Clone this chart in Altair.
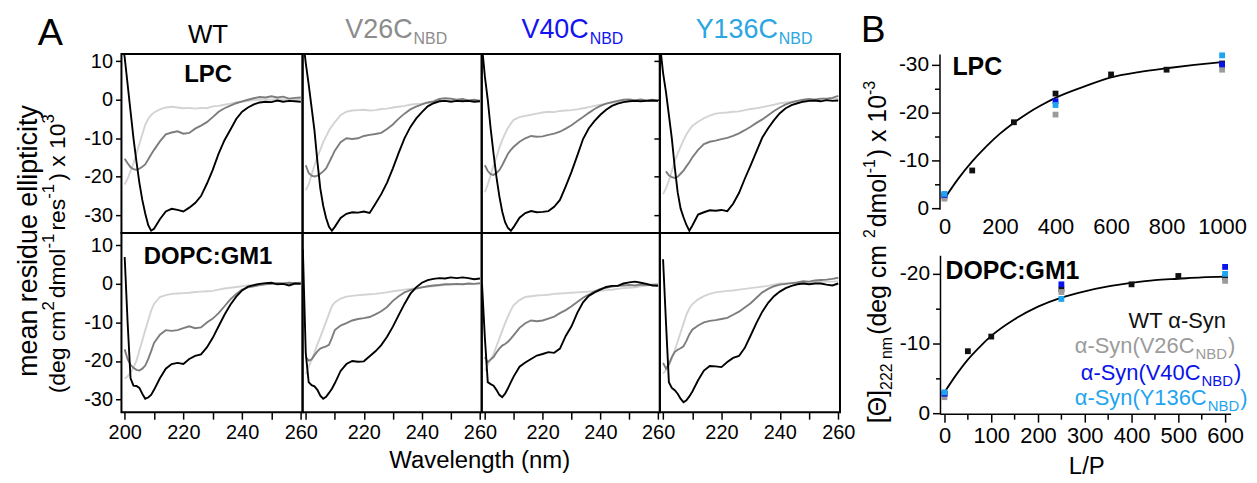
import altair as alt
import pandas as pd

FONT = "Liberation Sans"

# ---------------- Panel A : CD spectra ----------------
WL = [199, 200, 201, 202, 203, 204, 205, 206, 207, 208, 209, 210,
      212, 214, 216, 218, 220, 222, 224, 226, 228, 230, 232, 234, 236,
      238, 240, 242, 244, 246, 248, 250, 252, 254, 256, 258, 260]

WT_LPC_BLACK = [16, 11, 4, -3, -10, -16, -21.5, -26, -29.5, -32.5, -34, -33.5, -31, -29, -28.3, -28.6, -29, -28, -26.8, -25, -21.8, -18.2, -14, -10.5, -7.8, -5, -3.1, -2, -1.2, -0.7, -0.5, -0.6, -0.2, -0.5, -0.3, -0.4, -0.5]
WT_LPC_MID = [None, -15.3, -16.5, -17.5, -18, -18.2, -17.9, -17.4, -16.8, -15.5, -14.2, -13, -10.8, -9, -8.5, -8.2, -8.8, -8.6, -7.5, -6.7, -5.8, -4.5, -3.1, -2.2, -1.5, -0.9, -0.4, 0, 0.4, 0.7, 0.6, 0.9, 0.6, 0.8, 0.3, 0.5, 0.6]
WT_LPC_LIGHT = [None, -22, -20.5, -18.5, -16.5, -14, -11.5, -9, -6.5, -5, -4, -3.3, -2.5, -2, -1.8, -2, -2.2, -2.1, -2.3, -2.1, -2.2, -1.7, -1.6, -1.3, -1, -0.6, -0.5, -0.3, -0.1, 0, 0.1, 0, 0.2, 0.1, 0.2, 0.1, 0.2]

V26C_LPC_BLACK = [16, 9.5, 4, -2, -8, -16, -23, -27.5, -30.7, -33, -34, -33, -30.7, -29.6, -29.2, -29.3, -29, -29.4, -27, -24.5, -21.5, -17.8, -13.8, -10, -7.1, -4.9, -3.2, -1.7, -0.9, -0.4, -0.3, -0.5, -0.3, -0.4, -0.3, -0.5, -0.4]
V26C_LPC_MID = [None, -17, -19, -19.7, -19.9, -19.7, -19.2, -18.6, -17.8, -16.3, -14.8, -13.2, -11, -10, -10.2, -10, -9.4, -9.1, -8.9, -8.6, -7.6, -6.4, -4.9, -3.6, -2.5, -1.8, -1.2, -0.7, -0.4, 0.2, 0.4, 0.3, 0, 0.2, -0.2, 0, -0.3]
V26C_LPC_LIGHT = [None, -23.5, -22, -19.5, -17, -14.8, -13, -11, -9.5, -8, -6.8, -5.8, -4, -3.1, -2.8, -2.7, -2.6, -2.8, -2.7, -2.4, -2.3, -2, -1.8, -1.6, -1.3, -1.1, -1, -0.8, -0.6, -0.4, -0.3, -0.2, -0.3, -0.1, -0.2, -0.1, -0.2]

V40C_LPC_BLACK = [14, 6, 0, -7.5, -14, -20, -25, -29, -31.8, -33.3, -34, -33, -30.6, -29.4, -28.9, -29.2, -29.1, -28.9, -27.8, -26, -22.5, -18.7, -14.5, -10.2, -7.4, -5.5, -3.9, -2.6, -1.6, -1, -0.6, -0.4, -0.3, -0.4, -0.3, -0.2, -0.3]
V40C_LPC_MID = [None, -17, -18.5, -19.3, -19.5, -19, -18.3, -17, -15.5, -14, -13, -12.2, -10.9, -10, -9.4, -9.6, -9.5, -9.1, -8.8, -8.3, -7.5, -6.6, -5.5, -4.5, -3.4, -2.4, -1.6, -1, -0.6, -0.3, 0, 0.1, -0.1, 0.1, -0.2, 0, -0.3]
V40C_LPC_LIGHT = [None, -24, -22, -19.5, -17, -15, -12.5, -10.5, -8.8, -7.3, -6.2, -5.2, -4.5, -4.2, -3.9, -3.6, -3.3, -3.1, -3.2, -2.9, -2.8, -2.7, -2.5, -2.2, -1.9, -1.6, -1.3, -1, -0.8, -0.6, -0.4, -0.3, -0.4, -0.3, -0.2, -0.3, -0.2]

Y136C_LPC_BLACK = [14, 7, 2, -4, -10, -17.5, -24, -28.2, -30.5, -32.5, -34, -32.7, -29.8, -29.2, -28.7, -28.8, -28.6, -28.9, -27, -24.2, -20.5, -17, -13.4, -9.8, -7.4, -5.3, -3.5, -2.2, -1.4, -0.9, -0.5, -0.3, -0.2, -0.4, -0.1, -0.3, -0.2]
Y136C_LPC_MID = [None, None, -18.6, -19.6, -20.1, -20.3, -20, -19.2, -18.4, -17.3, -16.2, -15, -13, -11.5, -10.9, -10.6, -10.2, -9.9, -9.4, -8.7, -7.9, -7, -6, -5.1, -4, -2.9, -2, -1.2, -0.7, -0.3, 0, 0.2, 0, 0.3, 0.3, 0.5, 1]
Y136C_LPC_LIGHT = [None, -24.5, -23, -21, -18.5, -16, -14, -12.2, -10.5, -9, -7.8, -6.8, -5.7, -4.8, -4.1, -3.6, -3.4, -3.3, -3.1, -3, -2.7, -2.4, -2.2, -1.9, -1.6, -1.3, -0.9, -0.7, -0.5, -0.3, -0.2, 0, 0, 0.1, 0.2, 0.2, 0.3]

WT_DOPC_BLACK = [None, 7, -10, -24.5, -26.4, -26.5, -27, -28.5, -29.8, -29.5, -28.8, -27.5, -24.5, -22, -20.8, -20.5, -20.8, -19.5, -18.7, -18.3, -16.5, -14, -11, -8, -5.4, -3.3, -1.7, -0.7, -0.3, 0, 0.2, 0.3, -0.1, 0, -0.4, 0.1, 0]
WT_DOPC_MID = [None, -17, -19.5, -21, -21.8, -22.3, -22.5, -22, -21.2, -19.5, -17.5, -15.3, -13.2, -12, -12.2, -12, -11.5, -11, -11.5, -11.3, -10, -9, -7.6, -5.8, -4, -2.6, -1.5, -0.9, -0.6, -0.3, -0.1, 0, 0.2, 0.1, 0.3, 0.2, 0.3]
WT_DOPC_LIGHT = [None, -24.6, -24, -23, -21.7, -20, -17.3, -14.7, -12, -9.5, -7, -5.2, -3.4, -2.9, -2.6, -2.5, -2.4, -2.3, -2.1, -2, -1.9, -1.8, -1.5, -1.2, -1, -0.8, -0.6, -0.4, -0.3, -0.1, 0, 0.1, 0.2, 0.2, 0.3, 0.2, 0.3]

V26C_DOPC_BLACK = [9, -18, -25.5, -26.3, -26.6, -27.5, -29, -29.8, -29.3, -28.3, -27.2, -25.8, -22.6, -20.8, -20, -20.2, -20.1, -18.8, -17.5, -15.9, -13.7, -11.1, -8.1, -5.2, -2.6, -0.9, 0.3, 1, 1.3, 1.5, 1.4, 1.7, 1.5, 1.7, 1.5, 1.2, 1.4]
V26C_DOPC_MID = [None, -19, -19.9, -19.6, -18.5, -17.5, -16.8, -16.5, -16.2, -15.8, -14, -12, -10.8, -10.2, -9.5, -9.1, -8.9, -8.6, -7.9, -7.1, -6, -4.4, -3.2, -2.2, -1.6, -1.2, -0.9, -0.6, -0.4, -0.3, -0.1, -0.1, 0, -0.1, 0.1, 0, 0.2]
V26C_DOPC_LIGHT = [None, -23.5, -21.5, -19.7, -17.8, -15.7, -13.8, -11.8, -9.8, -7.8, -5.8, -4.8, -3.8, -3.3, -3.1, -2.9, -2.8, -2.7, -2.6, -2.4, -2.2, -1.9, -1.7, -1.5, -1.3, -1.1, -0.9, -0.7, -0.6, -0.4, -0.3, -0.2, -0.2, -0.1, 0, 0, 0]

V40C_DOPC_BLACK = [0, -14, -25.5, -26, -26.4, -27.5, -28.8, -29.4, -28.5, -27.1, -25.5, -24, -21.5, -20.4, -19.5, -18.6, -18.2, -17.7, -17.9, -16.8, -13.5, -11, -7.5, -4.8, -3.1, -2.2, -1.5, -0.8, -0.5, -0.5, 0.1, 0.4, 0.6, 0.3, 0, -0.4, -0.5]
V40C_DOPC_MID = [None, -19, -20.3, -19.6, -19, -17.8, -16.8, -16, -15.6, -15, -14.2, -13.3, -11.4, -10.2, -9.5, -9.7, -9.5, -9, -8.5, -7.6, -6.8, -5.8, -4.7, -3.6, -2.8, -1.9, -1.3, -1, -0.7, -0.5, -0.4, -0.3, -0.4, -0.2, -0.3, -0.3, -0.2]
V40C_DOPC_LIGHT = [None, -22.5, -21, -19.7, -18.2, -16.2, -14.2, -12.2, -10.2, -8.4, -6.8, -5.5, -4.2, -3.4, -3.2, -3, -2.9, -2.8, -2.6, -2.5, -2.4, -2.3, -2.2, -2.1, -2, -1.9, -1.8, -1.6, -1.5, -1.3, -1.1, -1, -0.9, -0.6, -0.4, -0.1, 0]

Y136C_DOPC_BLACK = [None, 6.4, -10, -25.5, -27, -27.6, -28.5, -29.8, -30.7, -30.2, -29.2, -28, -25, -22.5, -21.3, -21.4, -21.6, -20.3, -19.2, -18.7, -16.6, -13.4, -10.1, -7.2, -4.9, -3.2, -2, -1.1, -0.5, -0.1, 0.1, -0.1, 0.1, 0.1, -0.2, -0.4, 0.1]
Y136C_DOPC_MID = [None, -20.5, -22, -20.8, -19, -17.7, -17.1, -16.7, -16.2, -14.8, -13.1, -11.9, -10.8, -10, -9.6, -9.4, -9.1, -8.8, -8, -7.2, -6.1, -5, -3.6, -2.2, -1.3, -0.6, -0.2, 0, 0.2, 0.4, 0.7, 0.6, 0.9, 1, 1.1, 1.3, 1.6]
Y136C_DOPC_LIGHT = [None, -23.3, -22.4, -21.2, -19.4, -17.2, -15, -12.6, -10.3, -8, -6.4, -5.3, -4, -3.2, -2.6, -2.2, -2, -1.8, -1.7, -1.5, -1.3, -1.1, -0.9, -0.7, -0.5, -0.2, 0.1, 0.1, 0.2, 0.3, 0.3, 0.4, 0.5, 0.5, 0.6, 0.6, 0.7]

COLUMNS = ["WT", "V26C", "V40C", "Y136C"]
CURVES = {
    ("LPC", "WT"): (WT_LPC_LIGHT, WT_LPC_MID, WT_LPC_BLACK),
    ("LPC", "V26C"): (V26C_LPC_LIGHT, V26C_LPC_MID, V26C_LPC_BLACK),
    ("LPC", "V40C"): (V40C_LPC_LIGHT, V40C_LPC_MID, V40C_LPC_BLACK),
    ("LPC", "Y136C"): (Y136C_LPC_LIGHT, Y136C_LPC_MID, Y136C_LPC_BLACK),
    ("DOPC", "WT"): (WT_DOPC_LIGHT, WT_DOPC_MID, WT_DOPC_BLACK),
    ("DOPC", "V26C"): (V26C_DOPC_LIGHT, V26C_DOPC_MID, V26C_DOPC_BLACK),
    ("DOPC", "V40C"): (V40C_DOPC_LIGHT, V40C_DOPC_MID, V40C_DOPC_BLACK),
    ("DOPC", "Y136C"): (Y136C_DOPC_LIGHT, Y136C_DOPC_MID, Y136C_DOPC_BLACK),
}
LINE_COLORS = ["#d3d3d3", "#7d7d7d", "#000000"]
TITLE_COLORS = {"WT": "#000000", "V26C": "#8c8c8c", "V40C": "#1212f2", "Y136C": "#2aa6e2"}

# ---------------- Panel B : [Theta]222 vs L/P ----------------
LPC_WT_X = [0, 100, 250, 400, 600, 800, 1000]
LPC_WT_Y = [-2.5, -7.9, -18.0, -24.0, -28.0, -29.0, -30.3]
LPC_MUT_X = [0, 400, 1000]
LPC_V26C_Y = [-2.0, -19.6, -29.0]
LPC_V40C_Y = [-2.8, -22.4, -30.1]
LPC_Y136C_Y = [-3.0, -21.6, -32.0]
LPC_FIT_X = [0, 50, 100, 150, 200, 250, 300, 350, 400, 500, 600, 700, 800, 900, 1000]
LPC_FIT_Y = [-2.0, -6.2, -9.8, -12.9, -15.6, -17.9, -19.9, -21.6, -23.1, -25.4, -27.4, -28.5, -29.3, -30.0, -30.6]

DOPC_WT_X = [0, 50, 100, 250, 400, 500, 600]
DOPC_WT_Y = [-2.8, -8.9, -11.0, -17.8, -18.5, -19.7, -19.5]
DOPC_MUT_X = [0, 250, 600]
DOPC_V26C_Y = [-2.3, -17.4, -19.0]
DOPC_V40C_Y = [-2.8, -18.5, -21.0]
DOPC_Y136C_Y = [-3.0, -16.4, -20.0]
DOPC_FIT_X = [0, 25, 50, 75, 100, 150, 200, 250, 300, 350, 400, 450, 500, 550, 600]
DOPC_FIT_Y = [-3.0, -5.5, -7.7, -9.5, -11.1, -13.5, -15.3, -16.6, -17.5, -18.2, -18.7, -19.1, -19.3, -19.5, -19.6]

SERIES = ["WT", "V26C", "V40C", "Y136C"]
SERIES_COLORS = ["#111111", "#9b9b9b", "#0a12ea", "#1fa4ef"]

# axis frame of the lower B plot (data units): L/P start/end and theta start/end
DOPC_AXIS_LP = [-8.5, 612.8]
DOPC_AXIS_THETA = [-22.6, 0.14]

# ---------------- helpers ----------------
AW = {'V': .667, '2': .556, '6': .556, 'C': .722, '4': .556, '0': .556, 'Y': .667,
      '1': .556, '3': .556, 'α': .578, '-': .333, 'S': .667, 'y': .5, 'n': .556,
      '(': .333, ')': .333, 'N': .722, 'B': .667, 'D': .722, 'W': .944, 'T': .611,
      ' ': .278, '[': .278, ']': .278, 'Θ': .778, 'd': .556, 'e': .556, 'g': .556,
      'c': .5, 'm': .833, 'o': .556, 'l': .222, 'r': .333, 's': .5, 'x': .5}


def tw(s, fs):
    return sum(AW.get(c, .556) for c in s) * fs


def txt(s, x, y, fs, color="black", weight="normal", align="left", angle=0):
    kw = dict(text=s, font=FONT, fontSize=fs, color=color, fontWeight=weight,
              align=align, baseline="alphabetic")
    if angle:
        kw["angle"] = angle
    return alt.Chart(pd.DataFrame({"k": [0]})).mark_text(**kw).encode(
        x=alt.value(x), y=alt.value(y))


def sub_text(main, sub, tail, x, y, fs, sfs, color):
    out = [txt(main, x, y, fs, color)]
    x2 = x + tw(main, fs) + 1
    out.append(txt(sub, x2, y + 6, sfs, color))
    if tail:
        out.append(txt(tail, x2 + tw(sub, sfs) + 1, y, fs, color))
    return out


def vertical_text(pieces, x, y0, gap=2):
    """Text rotated to read bottom-to-top, built from (text, size, shift) pieces
    so that superscripts (shift<0) and subscripts (shift>0) can be drawn."""
    out = []
    y = y0
    for s, fs, dx in pieces:
        out.append(txt(s, x + dx, y, fs, angle=270))
        y -= tw(s, fs) + (gap if dx else 0)
    return out


XDOM = [198.9, 260.6]
YDOM = {"LPC": [-34.6, 11.9], "DOPC": [-33.3, 13.2]}
PWS = [182, 180, 179, 181]
PH = 180


def cd_panel(row, ci):
    col = COLUMNS[ci]
    first = ci == 0
    bottom = row == "DOPC"
    xs = alt.Scale(domain=XDOM, nice=False, zero=False)
    ys = alt.Scale(domain=YDOM[row], nice=False, zero=False)
    if bottom:
        expr = ("datum.value % 20 === 0 ? '' + datum.value : ''" if first
                else "(datum.value % 20 === 0 && datum.value > 200) ? '' + datum.value : ''")
        xaxis = alt.Axis(values=list(range(200, 261, 10)), labelExpr=expr, tickSize=7,
                         tickWidth=1.5, tickColor="black", labelFontSize=20, labelFont=FONT,
                         labelColor="black", labelPadding=3, domain=False, grid=False,
                         title=None, labelOverlap=False, labelFlush=False)
    else:
        xaxis = None
    if first:
        yaxis = alt.Axis(values=[-30, -20, -10, 0, 10], labelExpr="'' + datum.value",
                         tickSize=6, tickWidth=1.5, tickColor="black", labelFontSize=20,
                         labelFont=FONT, labelColor="black", labelPadding=3, domain=False,
                         grid=False, title=None, labelOverlap=False, labelFlush=False)
    elif col == "V40C" and not bottom:
        # inward ticks on the right edge of this panel
        yaxis = alt.Axis(orient="right", offset=-6, values=[-30, -20, -10, 0, 10],
                         tickSize=6, tickWidth=1.5, tickColor="black", labels=False,
                         domain=False, grid=False, title=None)
    else:
        yaxis = None
    layers = []
    for vals, c in zip(CURVES[(row, col)], LINE_COLORS):
        df = pd.DataFrame({"wl": WL, "v": vals}).dropna()
        layers.append(alt.Chart(df).mark_line(color=c, strokeWidth=1.9, clip=True).encode(
            x=alt.X("wl:Q", scale=xs, axis=xaxis),
            y=alt.Y("v:Q", scale=ys, axis=yaxis)))
    if row == "LPC":
        if first:
            layers.append(txt("LPC", 87, 28, 24, weight="bold", align="center"))
            layers.append(txt("A", -84, -9, 38))
            layers.append(txt("mean residue ellipticity", -85, 188, 27, align="center", angle=270))
            layers += vertical_text([("(deg cm", 23, 0), ("2", 17, -11), ("dmol", 23, 0),
                                     ("-1", 17, -11), ("res", 23, 0), ("-1", 17, -11),
                                     (") x 10", 23, 0), ("3", 17, -11)], -57, 341, gap=3)
            layers.append(txt("WT", 87, -11, 26, align="center"))
        else:
            lx = {"V26C": 43, "V40C": 40, "Y136C": 36}[col]
            layers += sub_text(col, "NBD", "", lx, -16, 27, 16, TITLE_COLORS[col])
    else:
        if first:
            layers.append(txt("DOPC:GM1", 87, 31, 24, weight="bold", align="center"))
            layers.append(txt("Wavelength (nm)", 360, 236, 24, align="center"))
    return alt.layer(*layers).properties(
        width=PWS[ci], height=PH, view=alt.ViewBackground(stroke="black", strokeWidth=2))


def points_df(wt_x, wt_y, mut_x, ys):
    rows = [(x, y, "WT") for x, y in zip(wt_x, wt_y)]
    for name, yy in zip(SERIES[1:], ys):
        rows += [(x, y, name) for x, y in zip(mut_x, yy)]
    return pd.DataFrame(rows, columns=["lp", "theta", "s"])


def tick_cond(step, big, small):
    return {"condition": {"test": f"datum.value % {step} === 0", "value": big}, "value": small}


BW = 393  # B column spans from the right edge of panel A


def b_chart(kind):
    layers = []
    if kind == "LPC":
        pts = points_df(LPC_WT_X, LPC_WT_Y, LPC_MUT_X, [LPC_V26C_Y, LPC_V40C_Y, LPC_Y136C_Y])
        fit = pd.DataFrame({"lp": LPC_FIT_X, "theta": LPC_FIT_Y})
        xs = alt.Scale(domain=[-376.3, 1032.3], nice=False, zero=False)
        ys = alt.Scale(domain=[-32.3, 0.2], nice=False, zero=False, reverse=True)
        xaxis = alt.Axis(values=[0, 200, 400, 600, 800, 1000], labelExpr="'' + datum.value",
                         ticks=False, domain=False, labelFontSize=22, labelFont=FONT,
                         labelColor="black", labelPadding=7, grid=False, title=None,
                         labelOverlap=False, labelFlush=False)
        yaxis = alt.Axis(values=[-30, -25, -20, -15, -10, -5, 0], offset=-100,
                         labelExpr="datum.value % 10 === 0 ? '' + datum.value : ''",
                         tickSize=tick_cond(10, 8, 5), tickWidth=1.5, tickColor="black",
                         domain=True, domainColor="black", domainWidth=1.5,
                         labelFontSize=21, labelFont=FONT, labelColor="black", labelPadding=3,
                         grid=False, title=None, labelOverlap=False, labelFlush=False)
        h = 156
    else:
        pts = points_df(DOPC_WT_X, DOPC_WT_Y, DOPC_MUT_X, [DOPC_V26C_Y, DOPC_V40C_Y, DOPC_Y136C_Y])
        fit = pd.DataFrame({"lp": DOPC_FIT_X, "theta": DOPC_FIT_Y})
        xs = alt.Scale(domain=[-223.4, 612.8], nice=False, zero=False)
        ys = alt.Scale(domain=[-25.86, 0.14], nice=False, zero=False, reverse=True)
        xaxis = alt.Axis(values=list(range(0, 601, 50)),
                         labelExpr="datum.value % 100 === 0 ? '' + datum.value : ''",
                         tickSize=tick_cond(100, 8, 5), tickWidth=1.5, tickColor="black",
                         domain=False, labelFontSize=22, labelFont=FONT, labelColor="black",
                         labelPadding=3, grid=False, title=None, labelOverlap=False,
                         labelFlush=False)
        yaxis = alt.Axis(values=[-20, -15, -10, -5, 0], offset=-101,
                         labelExpr="datum.value % 10 === 0 ? '' + datum.value : ''",
                         tickSize=tick_cond(10, 8, 5), tickWidth=1.5, tickColor="black",
                         domain=False, labelFontSize=21, labelFont=FONT, labelColor="black",
                         labelPadding=3, grid=False, title=None, labelOverlap=False,
                         labelFlush=False)
        h = 182
        yrule = pd.DataFrame({"lp": [DOPC_AXIS_LP[0]], "t1": [DOPC_AXIS_THETA[0]],
                              "t2": [DOPC_AXIS_THETA[1]]})
        xrule = pd.DataFrame({"l1": [DOPC_AXIS_LP[0]], "l2": [DOPC_AXIS_LP[1]],
                              "t": [DOPC_AXIS_THETA[1]]})
        layers.append(alt.Chart(yrule).mark_rule(color="black", strokeWidth=1.5).encode(
            x=alt.X("lp:Q", scale=xs, axis=xaxis), y=alt.Y("t1:Q", scale=ys, axis=yaxis),
            y2="t2:Q"))
        layers.append(alt.Chart(xrule).mark_rule(color="black", strokeWidth=1.5).encode(
            x=alt.X("l1:Q", scale=xs, axis=xaxis), x2="l2:Q",
            y=alt.Y("t:Q", scale=ys, axis=yaxis)))
    line = alt.Chart(fit).mark_line(color="black", strokeWidth=1.8, interpolate="monotone").encode(
        x=alt.X("lp:Q", scale=xs, axis=xaxis), y=alt.Y("theta:Q", scale=ys, axis=yaxis))
    sq = alt.Chart(pts).mark_square(size=34, opacity=1).encode(
        x=alt.X("lp:Q", scale=xs, axis=xaxis), y=alt.Y("theta:Q", scale=ys, axis=yaxis),
        color=alt.Color("s:N", scale=alt.Scale(domain=SERIES, range=SERIES_COLORS), legend=None))
    layers += [line, sq]
    if kind == "LPC":
        layers.append(txt("LPC", 113, 21, 25, weight="bold"))
        layers.append(txt("B", 21, -12, 37))
        layers += vertical_text([("[Θ]", 25, 0), ("222 nm", 16, 6), (" (deg cm", 25, 0),
                                 ("2", 16, -11), ("dmol", 25, 0), ("-1", 16, -11),
                                 (") x 10", 25, 0), ("-3", 16, -11)], 46, 371, gap=2)
    else:
        layers.append(txt("DOPC:GM1", 106, 46, 25, weight="bold"))
        layers.append(txt("WT α-Syn", 290, 95, 22, color=SERIES_COLORS[0]))
        layers += sub_text("α-Syn(V26C", "NBD", ")", 236, 121, 22, 15, SERIES_COLORS[1])
        layers += sub_text("α-Syn(V40C", "NBD", ")", 242, 148, 22, 15, SERIES_COLORS[2])
        layers += sub_text("α-Syn(Y136C", "NBD", ")", 236, 173, 22, 15, SERIES_COLORS[3])
        layers.append(txt("L/P", 248, 242, 24, align="center"))
    return alt.layer(*layers).properties(width=BW, height=h)


cells = ([cd_panel("LPC", i) for i in range(4)] + [b_chart("LPC")]
         + [cd_panel("DOPC", i) for i in range(4)] + [b_chart("DOPC")])

chart = alt.concat(*cells, columns=5, spacing=0, bounds="flush").properties(
    padding={"left": 6, "top": 2, "right": 0, "bottom": 0}
).configure_view(stroke="transparent")

chart.save("out.html", embed_options={"renderer": "svg", "actions": False})
